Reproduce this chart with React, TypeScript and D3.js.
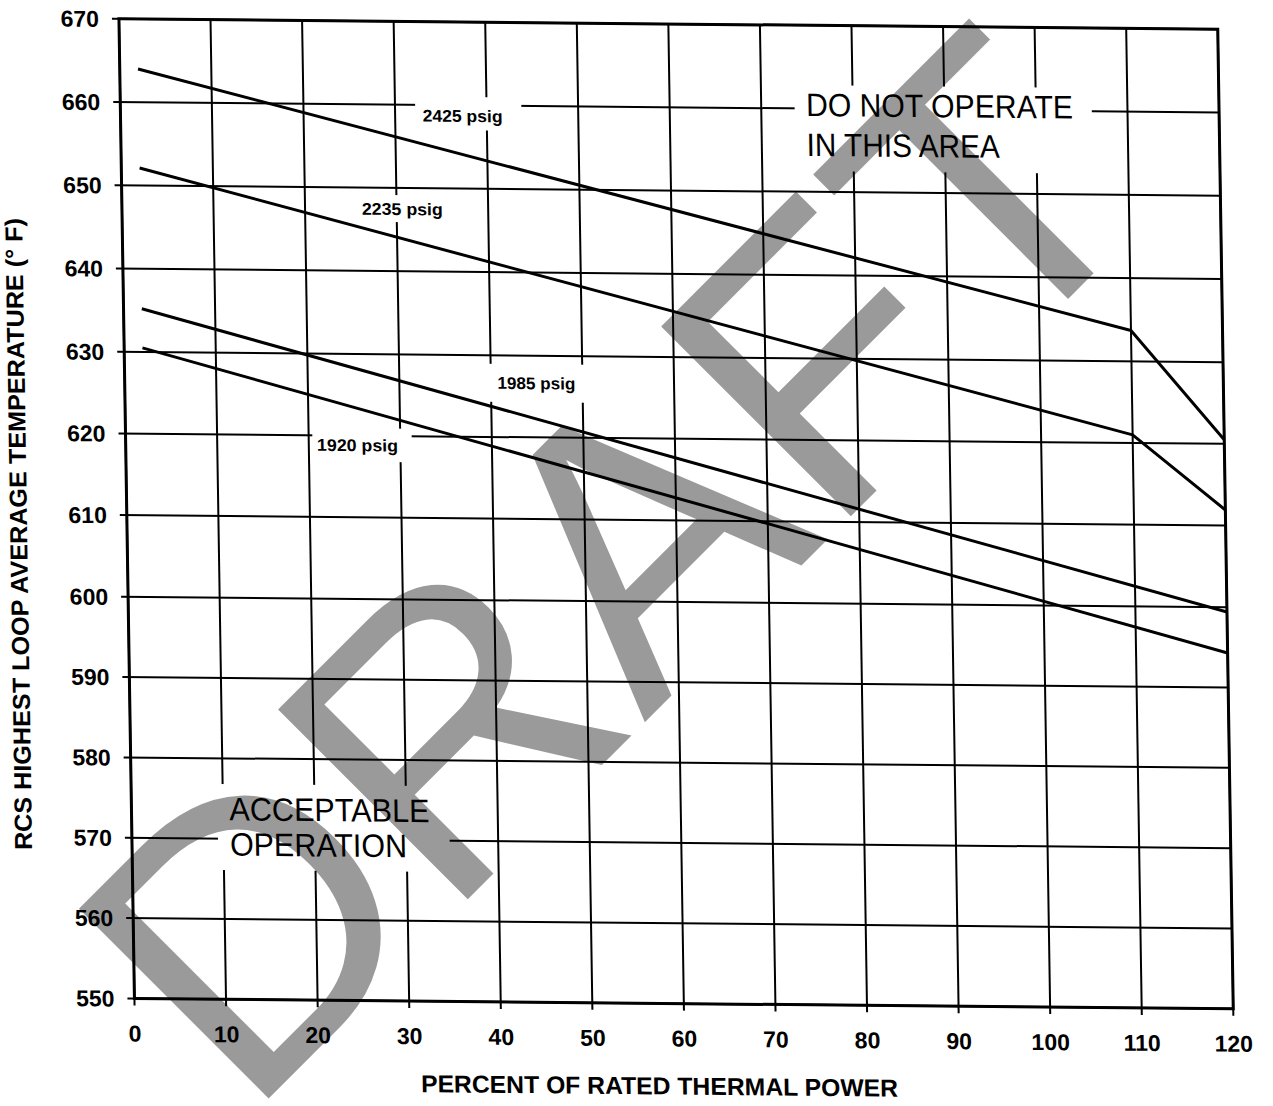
import React from 'react';
import * as d3 from 'd3';

// ---------- data ----------
const xTicks = [0, 10, 20, 30, 40, 50, 60, 70, 80, 90, 100, 110, 120];
const yTicks = [550, 560, 570, 580, 590, 600, 610, 620, 630, 640, 650, 660, 670];

const power2425 = [2, 110, 120];
const temp2425 = [664, 633.7, 620.5];
const power2235 = [2, 110, 120];
const temp2235 = [652.1, 621, 611.9];
const power1985 = [2, 120];
const temp1985 = [635.2, 599.4];
const power1920 = [2, 120];
const temp1920 = [630.5, 594.3];

const curveLabels = [
  { text: '2425 psig', x: 33, y: 658, len: 80 },
  { text: '2235 psig', x: 26.2, y: 646.75, len: 81 },
  { text: '1985 psig', x: 40.7, y: 625.9, len: 78 },
  { text: '1920 psig', x: 20.9, y: 618.1, len: 81 },
];

const regionLabels = [
  { lines: ['DO NOT OPERATE', 'IN THIS AREA'], x: 74.9, y: [659.1, 654.3], len: [267, 193] },
  { lines: ['ACCEPTABLE', 'OPERATION'], x: 10.7, y: [572.3, 567.9], len: [200, 177] },
];

// grid gaps behind labels (data units)
const gapBoxes = [
  { x0: 32.2, x1: 43.8, y0: 661, y1: 657 },
  { x0: 25.8, x1: 35.5, y0: 649.15, y1: 645.9 },
  { x0: 39.5, x1: 50.8, y0: 628.96, y1: 624.3 },
  { x0: 20.4, x1: 31.25, y0: 620.9, y1: 616.8 },
  { x0: 73.65, x1: 106.1, y0: 662.8, y1: 652.5 },
  { x0: 9.4, x1: 34.7, y0: 576.8, y1: 566.1 },
];

const xTitle = 'PERCENT OF RATED THERMAL POWER';
const yTitle = 'RCS HIGHEST LOOP AVERAGE TEMPERATURE (° F)';
const watermark = 'DRAFT';

// ---------- layout ----------
const WIDTH = 1273;
const HEIGHT = 1106;
const W = 1098.8;
const H = 979.65;
const FONT = '"Liberation Sans", Arial, Helvetica, sans-serif';

export default function App() {
  const x = d3.scaleLinear().domain([0, 120]).range([0, W]);
  const y = d3
    .scaleLinear()
    .domain([670, 630, 600, 550])
    .range([0, 0.34 * H, 0.59 * H, H]);

  const line = d3
    .line<[number, number]>()
    .x((d) => x(d[0]))
    .y((d) => y(d[1]));

  const series = [
    [power2425, temp2425],
    [power2235, temp2235],
    [power1985, temp1985],
    [power1920, temp1920],
  ].map(([p, t]) => p.map((v, i) => [v, t[i]] as [number, number]));

  return (
    <svg
      width={WIDTH}
      height={HEIGHT}
      style={{ position: 'absolute', left: 0, top: 0, background: '#fff' }}
      fontFamily={FONT}
    >
      <rect x={0} y={0} width={WIDTH} height={HEIGHT} fill="#fff" />

      {/* watermark */}
      <text
        transform="translate(246,1121) rotate(-45)"
        fontSize={390}
        fill="#9a9a9a"
        fontFamily={FONT}
      >
        {watermark}
      </text>

      <g transform="matrix(1 0.00942 0.01582 1 118.95 18.8)">
        <defs>
          <mask id="gridMask" maskUnits="userSpaceOnUse" x={-300} y={-300} width={1800} height={1600}>
            <rect x={-300} y={-300} width={1800} height={1600} fill="#fff" />
            {gapBoxes.map((b, i) => (
              <rect
                key={i}
                x={x(b.x0)}
                y={y(b.y0)}
                width={x(b.x1) - x(b.x0)}
                height={y(b.y1) - y(b.y0)}
                fill="#000"
              />
            ))}
          </mask>
        </defs>

        {/* grid */}
        <g mask="url(#gridMask)" stroke="#000" strokeWidth={2}>
          {xTicks.map((t) => (
            <line key={'vx' + t} x1={x(t)} x2={x(t)} y1={0} y2={H + 7} />
          ))}
          {yTicks.map((t) => (
            <line key={'hy' + t} x1={-7} x2={W} y1={y(t)} y2={y(t)} />
          ))}
        </g>

        {/* frame */}
        <rect x={0} y={0} width={W} height={H} fill="none" stroke="#000" strokeWidth={3} />

        {/* tick labels */}
        {yTicks.map((t) => (
          <text
            key={'yl' + t}
            x={-20}
            y={y(t)}
            dy="0.36em"
            textAnchor="end"
            fontSize={23}
            fontWeight="bold"
            fill="#000"
          >
            {t}
          </text>
        ))}
        {xTicks.map((t) => (
          <text
            key={'xl' + t}
            x={x(t)}
            y={H + 43}
            textAnchor="middle"
            fontSize={23}
            fontWeight="bold"
            fill="#000"
          >
            {t}
          </text>
        ))}

        {/* curves */}
        {series.map((s, i) => (
          <path key={'s' + i} d={line(s) || ''} fill="none" stroke="#000" strokeWidth={3} strokeLinejoin="round" />
        ))}

        {/* curve labels */}
        {curveLabels.map((l) => (
          <text
            key={l.text}
            x={x(l.x)}
            y={y(l.y)}
            fontSize={17}
            fontWeight="bold"
            textLength={l.len}
            lengthAdjust="spacingAndGlyphs"
            fill="#000"
          >
            {l.text}
          </text>
        ))}

        {/* region labels */}
        {regionLabels.map((r) =>
          r.lines.map((ln, j) => (
            <text
              key={ln}
              x={x(r.x)}
              y={y(r.y[j])}
              fontSize={32.5}
              textLength={r.len[j]}
              lengthAdjust="spacingAndGlyphs"
              fill="#000"
            >
              {ln}
            </text>
          ))
        )}

        {/* axis titles */}
        <text
          x={x(57.2)}
          y={H + 91}
          textAnchor="middle"
          fontSize={24.5}
          fontWeight="bold"
          textLength={477}
          lengthAdjust="spacingAndGlyphs"
          fill="#000"
        >
          {xTitle}
        </text>
        <text
          transform={`translate(-100, ${H * 0.527}) rotate(-90)`}
          textAnchor="middle"
          fontSize={24.5}
          fontWeight="bold"
          textLength={632}
          lengthAdjust="spacingAndGlyphs"
          fill="#000"
        >
          {yTitle}
        </text>
      </g>
    </svg>
  );
}
